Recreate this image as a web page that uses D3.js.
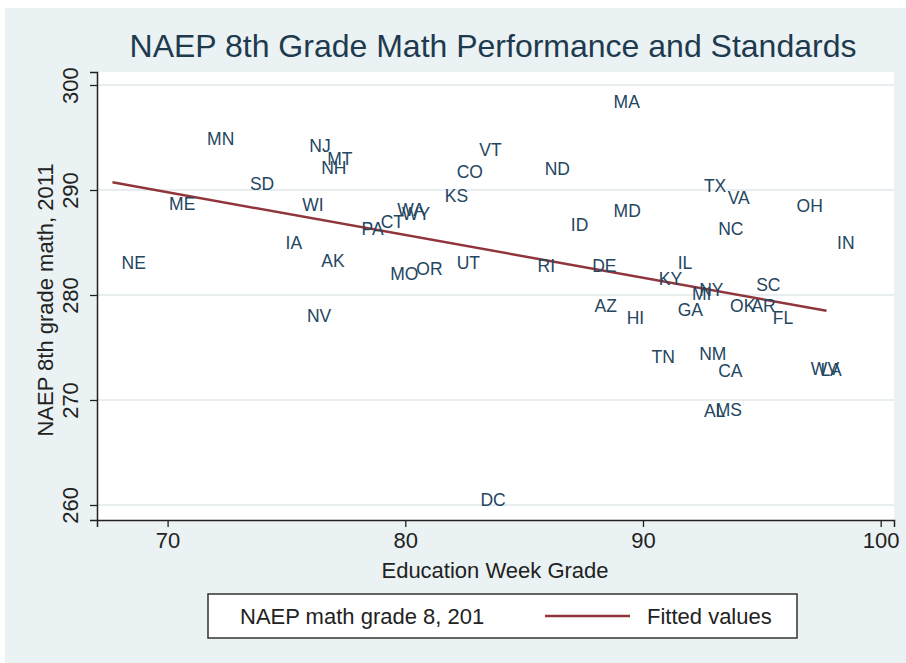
<!DOCTYPE html>
<html><head><meta charset="utf-8">
<script src="https://cdn.jsdelivr.net/npm/d3@7/dist/d3.min.js"></script>
<style>body{margin:0;background:#fff}svg{display:block;font-family:Arial,"Liberation Sans",sans-serif}</style>
</head><body><svg id="c" width="906" height="663"></svg>
<script>
const states = ["MA","MN","NJ","MT","NH","VT","CO","ND","SD","TX","VA","OH","KS","ME","WI","WA","WY","CT","PA","MD","ID","NC","IA","IN","AK","NE","IL","UT","RI","DE","MO","OR","KY","MI","NY","SC","OK","AR","FL","GA","AZ","HI","NV","TN","NM","CA","WV","LA","AL","MS","DC"];
const eduGrade = [88.3,71.2,75.5,76.25,76.0,82.65,81.7,85.4,73.0,92.1,93.1,96.0,81.2,69.6,75.2,79.2,79.4,78.5,77.7,88.3,86.5,92.7,74.5,97.7,76.0,67.6,91.0,81.7,85.1,87.4,78.9,80.0,90.2,91.6,91.9,94.3,93.2,94.1,95.0,91.0,87.5,88.85,75.4,89.9,91.9,92.7,96.6,97.0,92.1,92.6,82.7];
const naepMath = [298.4,294.9,294.2,293.0,292.1,293.8,291.7,292.0,290.6,290.4,289.3,288.5,289.5,288.7,288.6,288.1,287.7,287.0,286.3,288.0,286.7,286.3,285.0,285.0,283.3,283.1,283.1,283.1,282.8,282.8,282.0,282.5,281.6,280.1,280.5,281.0,279.0,279.0,277.8,278.6,279.0,277.8,278.0,274.1,274.4,272.8,273.0,272.9,269.0,269.1,260.5];
const fitX = [67.68, 97.72];
const fitY = [290.73, 278.50];
const xTicks = [70,80,90,100];
const yTicks = [260,270,280,290,300];
const title = "NAEP 8th Grade Math Performance and Standards";
const xTitle = "Education Week Grade";
const yTitle = "NAEP 8th grade math, 2011";
const legendLabels = ["NAEP math grade 8, 201","Fitted values"];

const FONT = "Arial, 'Liberation Sans', sans-serif";
const svg = d3.select("#c");
const P = {l:97, r:894, t:72, b:520};
const x = d3.scaleLinear().domain([67.03,100.56]).range([P.l,P.r]);
const y = d3.scaleLinear().domain([258.57,301.24]).range([P.b,P.t]);

svg.append("rect").attr("x",5).attr("y",8).attr("width",901).attr("height",655).attr("fill","#eaf2f3");
svg.append("rect").attr("x",P.l).attr("y",P.t).attr("width",P.r-P.l).attr("height",P.b-P.t).attr("fill","#fff");

// grid
svg.append("g").selectAll("line").data(yTicks).join("line")
  .attr("x1",P.l).attr("x2",P.r).attr("y1",d=>y(d)).attr("y2",d=>y(d))
  .attr("stroke","#e8eef0").attr("stroke-width",2);

// axes
const gx = svg.append("g").attr("transform",`translate(0,${P.b})`)
  .call(d3.axisBottom(x).tickValues(xTicks).tickSize(7).tickPadding(5).tickFormat(d3.format("d")));
gx.select(".domain").attr("stroke","#222").attr("stroke-width",1.5);
gx.selectAll(".tick line").attr("stroke","#222").attr("stroke-width",1.3);
gx.selectAll(".tick text").attr("font-size",22).attr("fill","#222").attr("font-family",FONT);

const gy = svg.append("g").attr("transform",`translate(${P.l},0)`)
  .call(d3.axisLeft(y).tickValues(yTicks).tickSize(7).tickPadding(0).tickFormat(d3.format("d")));
gy.select(".domain").attr("stroke","#222").attr("stroke-width",1.5);
gy.selectAll(".tick line").attr("stroke","#222").attr("stroke-width",1.3);
gy.selectAll(".tick text").attr("font-size",22).attr("fill","#222").attr("font-family",FONT)
  .attr("transform","translate(-27,0) rotate(-90)").attr("text-anchor","middle").attr("dy","0.35em").attr("x",0);

// fitted line
svg.append("path").datum(d3.zip(fitX,fitY))
  .attr("d",d3.line().x(d=>x(d[0])).y(d=>y(d[1])))
  .attr("fill","none").attr("stroke","#90353b").attr("stroke-width",2.5);

// labels
svg.append("g").selectAll("text").data(states).join("text")
  .attr("x",(d,i)=>x(eduGrade[i])+11).attr("y",(d,i)=>y(naepMath[i]))
  .attr("dy","0.36em").attr("font-size",17.5).attr("fill","#24465f").text(d=>d);

// titles
svg.append("text").attr("x",493).attr("y",57).attr("text-anchor","middle")
  .attr("font-size",32).attr("fill","#1e3a4f").text(title);
svg.append("text").attr("x",495).attr("y",578).attr("text-anchor","middle")
  .attr("font-size",22).attr("fill","#222").text(xTitle);
svg.append("text").attr("transform","translate(53,300) rotate(-90)").attr("text-anchor","middle")
  .attr("font-size",22).attr("fill","#222").text(yTitle);

// legend
svg.append("rect").attr("x",208).attr("y",594).attr("width",589).attr("height",44)
  .attr("fill","#fff").attr("stroke","#333").attr("stroke-width",1.5);
svg.append("text").attr("x",240).attr("y",624).attr("font-size",22).attr("fill","#222").text(legendLabels[0]);
svg.append("line").attr("x1",545).attr("x2",630).attr("y1",616).attr("y2",616).attr("stroke","#90353b").attr("stroke-width",2.5);
svg.append("text").attr("x",647).attr("y",624).attr("font-size",22).attr("fill","#222").text(legendLabels[1]);
</script></body></html>
